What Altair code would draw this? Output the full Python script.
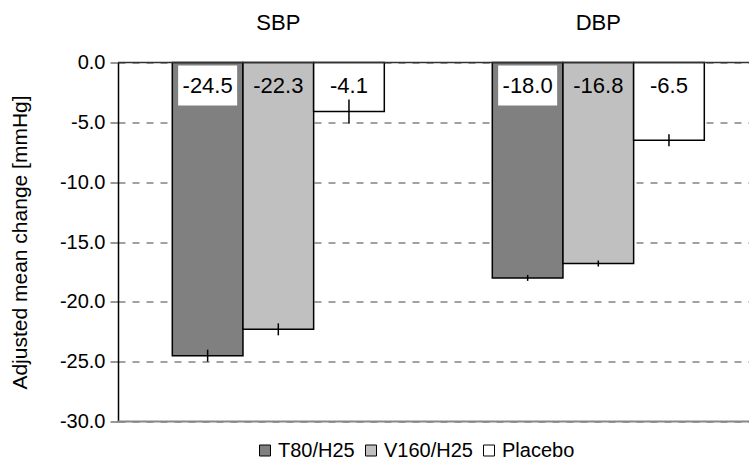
import altair as alt
import pandas as pd

groups = ["SBP", "DBP"]
treatments = ["T80/H25", "V160/H25", "Placebo"]
sbp_values = [-24.5, -22.3, -4.1]
dbp_values = [-18.0, -16.8, -6.5]
sbp_errors = [0.5, 0.5, 1.0]
dbp_errors = [0.25, 0.25, 0.5]
fill_colors = ["#808080", "#c0c0c0", "#ffffff"]
y_ticks = [-30, -25, -20, -15, -10, -5, 0]

rows = []
for g, vals, errs in [("SBP", sbp_values, sbp_errors), ("DBP", dbp_values, dbp_errors)]:
    for t, v, e in zip(treatments, vals, errs):
        rows.append({"group": g, "treatment": t, "value": v,
                     "lo": v - e, "hi": v + e, "label": f"{v:.1f}"})
df = pd.DataFrame(rows)

FONT = "Liberation Sans"

x_enc = alt.X(
    "group:N", sort=groups,
    scale=alt.Scale(domain=groups, paddingInner=0.3375, paddingOuter=0.1547, align=0.5485),
    axis=alt.Axis(orient="top", title=None, ticks=False, tickSize=0, domain=False,
                  labelAngle=0, labelFontSize=22, labelColor="black", labelPadding=33,
                  labelBaseline="alphabetic", grid=False),
)
xoff_enc = alt.XOffset("treatment:N", sort=treatments,
                       scale=alt.Scale(domain=treatments, paddingInner=0, paddingOuter=0))
y_scale = alt.Scale(domain=[-30, 0], nice=False, zero=False)

base = alt.Chart(df)

bars = base.mark_bar(stroke="black", strokeWidth=1.5).encode(
    x=x_enc,
    xOffset=xoff_enc,
    y=alt.Y("value:Q", scale=y_scale,
            axis=alt.Axis(values=y_ticks, title="Adjusted mean change [mmHg]",
                          labelExpr="replace(format(datum.value, '.1f'), '\u2212', '-')",
                          titleFontSize=21, titleFontWeight="normal", titleColor="black",
                          titlePadding=29,
                          labelFontSize=20, labelColor="black", labelPadding=5,
                          tickSize=8, tickColor="#333333", tickWidth=1,
                          domainColor="black", domainWidth=1.5,
                          grid=True, gridColor="#444444", gridDash=[7, 7], gridWidth=1)),
    y2=alt.datum(0),
    fill=alt.Fill("treatment:N", sort=treatments,
                  scale=alt.Scale(domain=treatments, range=fill_colors),
                  legend=alt.Legend(orient="none", direction="horizontal", title=None,
                                    legendX=137, legendY=378, padding=0,
                                    symbolType="square", symbolSize=121,
                                    symbolStrokeColor="black", symbolStrokeWidth=1,
                                    symbolOpacity=1,
                                    labelFontSize=20, labelColor="black", labelOffset=3,
                                    columnPadding=6)),
)

errs = base.mark_rule(color="black", strokeWidth=1.5).encode(
    x=x_enc, xOffset=xoff_enc,
    y=alt.Y("lo:Q", scale=y_scale), y2="hi:Q",
)

label_box = base.transform_filter(alt.datum.treatment == "T80/H25").mark_bar(
    width=59, fill="white", stroke=None
).encode(x=x_enc, xOffset=xoff_enc, y=alt.value(3), y2=alt.value(43))

labels = base.mark_text(fontSize=22, color="black", baseline="middle", align="center").encode(
    x=x_enc, xOffset=xoff_enc, y=alt.value(23), text="label:N"
)

top_line = alt.Chart(pd.DataFrame({"v": [0]})).mark_rule(color="#333333", strokeWidth=1.5).encode(
    y=alt.Y("v:Q", scale=y_scale))
bottom_line = alt.Chart(pd.DataFrame({"v": [-30]})).mark_rule(color="#888888", strokeWidth=2).encode(
    y=alt.Y("v:Q", scale=y_scale))

chart = alt.layer(bottom_line, bars, errs, label_box, labels, top_line).properties(
    width=631, height=359,
    padding={"left": 118, "top": 62.5, "right": 0, "bottom": 41.5},
    autosize="none",
).configure(font=FONT).configure_view(stroke=None).configure_axis(labelFont=FONT, titleFont=FONT)

chart.save("out.html", embed_options={"renderer": "svg", "actions": False})
